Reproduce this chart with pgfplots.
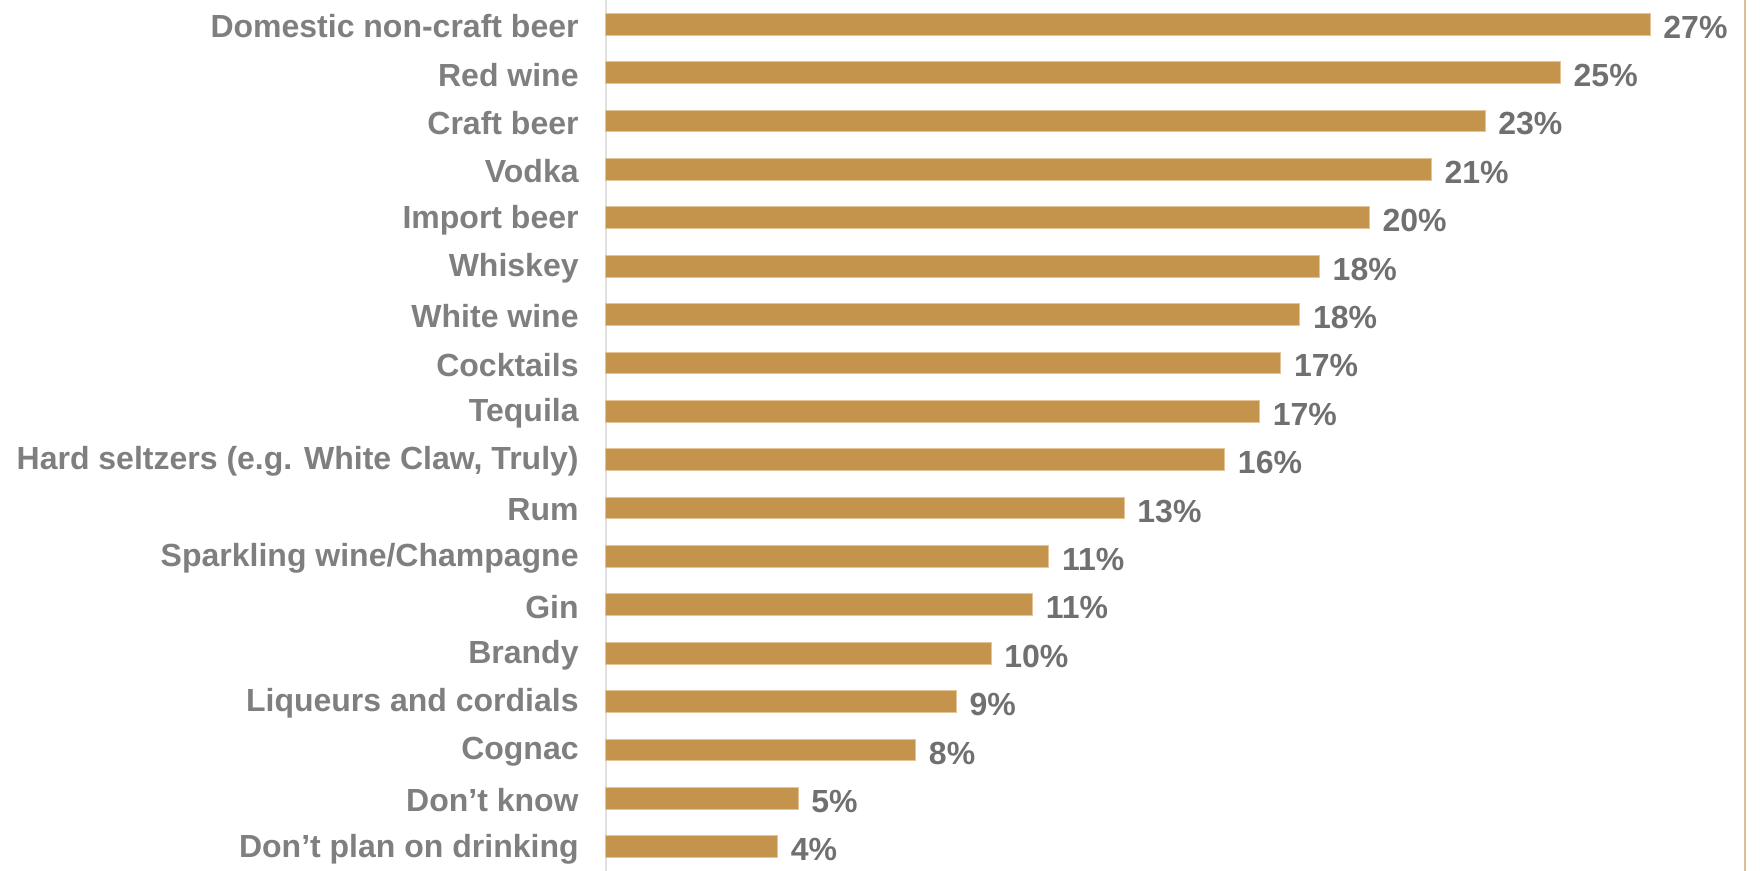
\documentclass[border=0pt]{standalone}
\usepackage{pgfplots}
\pgfplotsset{compat=1.18}
\usepackage{fontspec}
\setmainfont{Liberation Sans}
\definecolor{barc}{RGB}{196,148,76}
\definecolor{bare}{RGB}{228,196,150}
\definecolor{labc}{RGB}{127,127,127}
\definecolor{valc}{RGB}{112,112,112}
\definecolor{rline}{RGB}{222,190,150}
\definecolor{lline}{RGB}{224,224,224}
\begin{document}
\begin{tikzpicture}
\begin{axis}[
  scale only axis,
  width=569.5pt, height=435.5pt,
  xbar, bar width=0.45,
  xmin=0, xmax=29.45,
  ymin=-0.5, ymax=17.5,
  axis x line=none,
  axis y line*=left,
  y axis line style={draw=lline, line width=1pt},
  ytick={0,...,17},
  yticklabels={Don’t plan on drinking,Don’t know,Cognac,Liqueurs and cordials,Brandy,Gin,Sparkling wine/Champagne,Rum,{Hard seltzers (e.g. White Claw, Truly)},Tequila,Cocktails,White wine,Whiskey,Import beer,Vodka,Craft beer,Red wine,Domestic non-craft beer},
  major tick length=0pt,
  yticklabel style={font=\fontsize{16}{19}\selectfont\bfseries, text=labc, inner sep=0pt, xshift=-13.5pt, yshift=-1pt},
  clip=false,
  point meta=explicit symbolic,
  nodes near coords,
  every node near coord/.append style={font=\fontsize{16}{19}\selectfont\bfseries, text=valc, anchor=west, xshift=3pt, yshift=-1.5pt},
]
\addplot[fill=barc, draw=bare, line width=0.5pt] coordinates {
(4.44,0) [4\%]
(4.97,1) [5\%]
(8.01,2) [8\%]
(9.06,3) [9\%]
(9.96,4) [10\%]
(11.03,5) [11\%]
(11.45,6) [11\%]
(13.4,7) [13\%]
(16.0,8) [16\%]
(16.9,9) [17\%]
(17.45,10) [17\%]
(17.94,11) [18\%]
(18.45,12) [18\%]
(19.74,13) [20\%]
(21.34,14) [21\%]
(22.73,15) [23\%]
(24.68,16) [25\%]
(27.0,17) [27\%]
};
\end{axis}
\draw[rline, line width=1pt] (current axis.south east) -- (current axis.north east);
\pgfresetboundingbox
\path[use as bounding box] ([xshift=-303pt]current axis.south west) rectangle ([xshift=7.5pt]current axis.north east);
\end{tikzpicture}
\end{document}
